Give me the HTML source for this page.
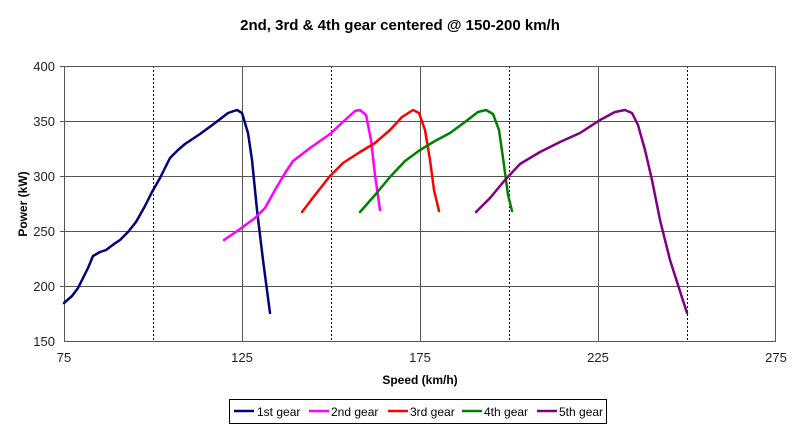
<!DOCTYPE html>
<html><head><style>body{margin:0;background:#fff}svg{display:block}</style></head><body>
<svg width="800" height="427" xmlns="http://www.w3.org/2000/svg" font-family="Liberation Sans, Arial, sans-serif">
<rect width="800" height="427" fill="#fff"/>
<text x="400" y="30" text-anchor="middle" font-size="15" font-weight="bold">2nd, 3rd &amp; 4th gear centered @ 150-200 km/h</text>
<g stroke="#000" stroke-width="1" stroke-dasharray="2,2">
<line x1="153.5" y1="66" x2="153.5" y2="341"/><line x1="331.5" y1="66" x2="331.5" y2="341"/><line x1="509.5" y1="66" x2="509.5" y2="341"/><line x1="687.5" y1="66" x2="687.5" y2="341"/>
</g>
<g stroke="#555" stroke-width="1">
<line x1="242.5" y1="66" x2="242.5" y2="341"/><line x1="420.5" y1="66" x2="420.5" y2="341"/><line x1="598.5" y1="66" x2="598.5" y2="341"/>
<line x1="60" y1="66.5" x2="776" y2="66.5"/><line x1="60" y1="121.5" x2="776" y2="121.5"/><line x1="60" y1="176.5" x2="776" y2="176.5"/><line x1="60" y1="231.5" x2="776" y2="231.5"/><line x1="60" y1="286.5" x2="776" y2="286.5"/>
</g>
<rect x="64.5" y="66.5" width="711" height="275" fill="none" stroke="#555"/>
<g font-size="13" fill="#222" text-anchor="end">
<text x="55" y="71">400</text><text x="55" y="126">350</text><text x="55" y="181">300</text><text x="55" y="236">250</text><text x="55" y="291">200</text><text x="55" y="346">150</text>
</g>
<g font-size="13" fill="#222" text-anchor="middle">
<text x="64" y="362">75</text><text x="242" y="362">125</text><text x="420" y="362">175</text><text x="598" y="362">225</text><text x="776" y="362">275</text>
</g>
<text x="420" y="384" text-anchor="middle" font-size="12" font-weight="bold">Speed (km/h)</text>
<text transform="translate(27,204) rotate(-90)" text-anchor="middle" font-size="12" font-weight="bold">Power (kW)</text>
<g fill="none" stroke-width="2.5" stroke-linejoin="round" stroke-linecap="round">
<polyline stroke="#000080" points="64,303 72,296 78,288 84,276 88,268 93,256 100,252 106,250 114,244 120,240 128,232 136,222 145,206 152,192 160,178 170,158 178,150 185,144 200,134 215,123 228,113 237,110 242,113 248,133 252,160 257,210 263,260 270,313"/>
<polyline stroke="#ff00ff" points="224,240 240,229 255,218 265,208 275,190 285,173 293,161 310,148 330,134 345,120 355,111 360,110 366,115 371,140 375,175 380,210"/>
<polyline stroke="#ff0000" points="302,212 315,195 330,176 343,163 360,152 375,143 390,130 402,117 413,110 419,113 425,130 430,160 434,190 439,211"/>
<polyline stroke="#008000" points="360,212 375,195 390,177 405,161 420,150 435,141 450,133 465,122 478,112 486,110 493,114 499,130 504,165 508,195 512,211"/>
<polyline stroke="#800080" points="476,212 490,198 505,180 520,164 540,152 560,142 580,133 600,120 615,112 625,110 632,113 638,125 645,150 652,180 660,220 670,260 678,285 687,313"/>
</g>
<rect x="229.5" y="399.5" width="377" height="24" fill="#fff" stroke="#000"/>
<g stroke-width="2.5">
<line x1="234" y1="411" x2="254" y2="411" stroke="#000080"/>
<line x1="309" y1="411" x2="329" y2="411" stroke="#ff00ff"/>
<line x1="388" y1="411" x2="408" y2="411" stroke="#ff0000"/>
<line x1="462" y1="411" x2="482" y2="411" stroke="#008000"/>
<line x1="537" y1="411" x2="557" y2="411" stroke="#800080"/>
</g>
<g font-size="12" fill="#000">
<text x="257" y="416">1st gear</text><text x="331" y="416">2nd gear</text><text x="410" y="416">3rd gear</text><text x="484" y="416">4th gear</text><text x="559" y="416">5th gear</text>
</g>
</svg>
</body></html>
